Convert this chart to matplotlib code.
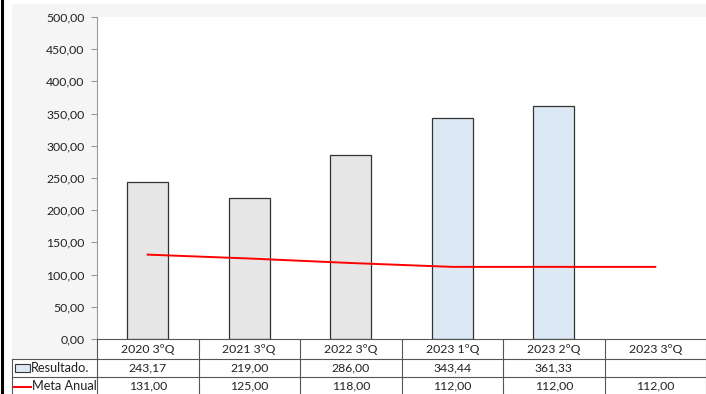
import matplotlib
matplotlib.use("Agg")
import matplotlib.pyplot as plt
from matplotlib.patches import Rectangle
from matplotlib.lines import Line2D
import matplotlib.transforms as mtransforms

categories = ["2020 3ºQ", "2021 3ºQ", "2022 3ºQ", "2023 1ºQ", "2023 2ºQ", "2023 3ºQ"]
resultado = [243.17, 219.00, 286.00, 343.44, 361.33, None]
meta_anual = [131.00, 125.00, 118.00, 112.00, 112.00, 112.00]
bar_colors = ["#e6e6e6", "#e6e6e6", "#e6e6e6", "#dce9f5", "#dce9f5", "#dce9f5"]
series_names = ["Resultado.", "Meta Anual"]

plt.rcParams["font.family"] = ["Lato", "DejaVu Sans"]
FS = 8.8
FS_ROW = 9.2

W, H = 706, 394
fig = plt.figure(figsize=(W / 100, H / 100), dpi=100, facecolor="white")

def fx(px):
    return px / W

def fy(py):
    return 1 - py / H

# grey chart-area background and left frame
fig.patches.append(Rectangle((fx(12), 0), 1 - fx(12), fy(4), transform=fig.transFigure,
                             facecolor="#f5f5f5", edgecolor="none", zorder=0))
fig.lines.append(Line2D([fx(1.5), fx(1.5)], [0, 1], transform=fig.transFigure,
                        color="black", lw=2.2))

left, right, top, bottom = 97, 706, 17, 339
ax = fig.add_axes([fx(left), fy(bottom), fx(right) - fx(left), fy(top) - fy(bottom)])
ax.set_zorder(2)
ax.set_facecolor("white")

n = len(categories)
xs = list(range(n))
for i, (v, c) in enumerate(zip(resultado, bar_colors)):
    if v is not None:
        ax.bar(i, v, width=0.4, color=c, edgecolor="#333333", linewidth=0.9, zorder=2)
ax.plot(xs, meta_anual, color="#ff0000", lw=1.4, zorder=3)

ax.set_xlim(-0.5, n - 0.5)
ax.set_ylim(0, 500)
ax.set_yticks(range(0, 501, 50))
ax.set_yticklabels([f"{v:.2f}".replace(".", ",") for v in range(0, 501, 50)],
                   fontsize=FS, color="#222222")
ax.tick_params(axis="y", length=4, color="#9a9a9a", pad=5)
ax.set_xticks([])
for s in ["top", "right", "bottom"]:
    ax.spines[s].set_visible(False)
ax.spines["left"].set_color("#9a9a9a")
ax.spines["left"].set_linewidth(0.8)

# data table below the axes
trans = mtransforms.blended_transform_factory(ax.transData, fig.transFigure)
grid_kw = dict(color="#555555", lw=0.8, zorder=5, clip_on=False)

fig.lines.append(Line2D([fx(left), 1], [fy(339), fy(339)], transform=fig.transFigure, **grid_kw))
for py in (359, 377):
    fig.lines.append(Line2D([fx(12), 1], [fy(py), fy(py)], transform=fig.transFigure, **grid_kw))
# cell backgrounds
fig.patches.append(Rectangle((fx(left), 0), 1 - fx(left), fy(339), transform=fig.transFigure,
                             facecolor="white", edgecolor="none", zorder=1))
fig.patches.append(Rectangle((fx(12), 0), fx(left) - fx(12), fy(359), transform=fig.transFigure,
                             facecolor="white", edgecolor="none", zorder=1))
for k in range(n + 1):
    xk = k - 0.5
    fig.lines.append(Line2D([xk, xk], [0, fy(339)], transform=trans, **grid_kw))
fig.lines.append(Line2D([fx(12), fx(12)], [0, fy(359)], transform=fig.transFigure, **grid_kw))

def fmt(v):
    return "" if v is None else f"{v:,.2f}".replace(",", "X").replace(".", ",").replace("X", ".")

txt_kw = dict(fontsize=FS, color="#222222", ha="center", va="center", zorder=6)
for i, cat in enumerate(categories):
    fig.text(i, fy(349.5), cat, transform=trans, **txt_kw)
    fig.text(i, fy(368), fmt(resultado[i]), transform=trans, **txt_kw)
    fig.text(i, fy(386), fmt(meta_anual[i]), transform=trans, **txt_kw)

# row labels with legend keys
fig.patches.append(Rectangle((fx(15), fy(372)), fx(30) - fx(15), fy(364) - fy(372),
                             transform=fig.transFigure, facecolor="#dce9f5",
                             edgecolor="#333333", lw=0.8, zorder=6))
fig.text(fx(31), fy(368), series_names[0], fontsize=FS_ROW, color="#222222",
         ha="left", va="center", zorder=6)
fig.lines.append(Line2D([fx(14), fx(31)], [fy(387), fy(387)], transform=fig.transFigure,
                        color="#ff0000", lw=1.4, zorder=6))
fig.text(fx(32), fy(386), series_names[1], fontsize=FS_ROW, color="#222222",
         ha="left", va="center", zorder=6)

fig.savefig("out.png", dpi=100, facecolor="white")
